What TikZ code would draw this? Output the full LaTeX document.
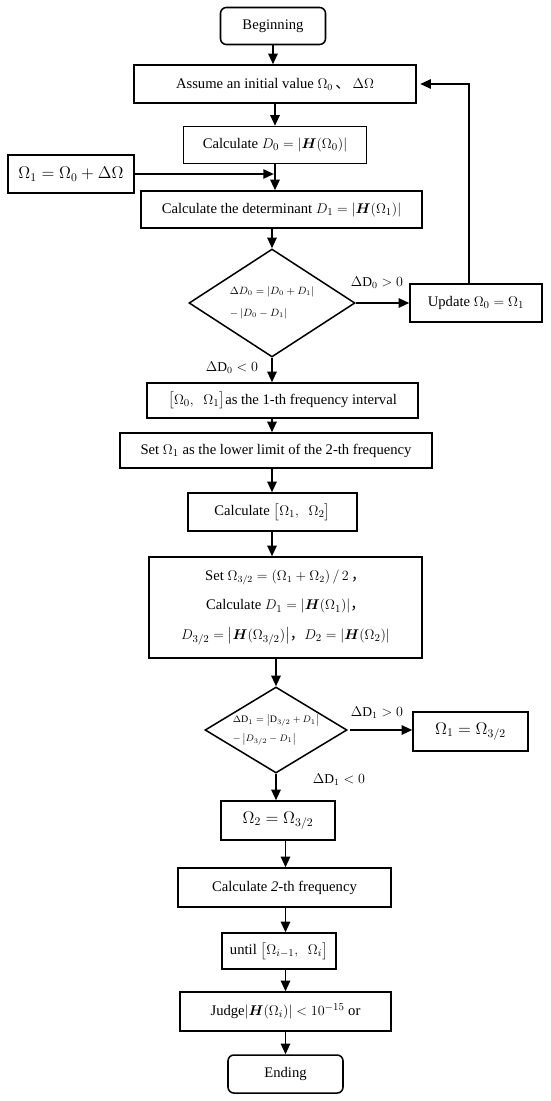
\documentclass[tikz,border=0pt]{standalone}
\usepackage{fontspec}
\usepackage{amsmath,bm}
\setmainfont{Liberation Serif}
\newfontfamily\cjk{Noto Sans CJK SC}
\usetikzlibrary{arrows.meta, shapes.geometric, calc}
\newcommand{\Hv}{\bm{H}}
\newcommand{\zcomma}{{\cjk ，}}

\begin{document}
\begin{tikzpicture}[
    x=0.03cm, y=-0.03cm,
    box/.style={
      draw, line width=1.3pt, rectangle, align=center,
      font=\fontsize{12.5}{15}\selectfont, inner sep=2pt,
    },
    term/.style={box, rounded corners=5pt},
    bigmath/.style={box, font=\fontsize{14.5}{17}\selectfont},
    decide/.style={
      draw, line width=1.3pt, diamond, inner sep=0pt,
      font=\fontsize{9}{19}\selectfont, align=left,
    },
    flow/.style={-{Triangle[length=9pt, width=8pt]}, line width=1.3pt},
    cond/.style={font=\fontsize{11.5}{14}\selectfont, inner sep=1pt},
]
\useasboundingbox (0,0) rectangle (550,1101);

\node[term, minimum width=3.15cm, minimum height=1.11cm] (begin) at (273, 26) {Beginning};
\node[box, minimum width=8.46cm, minimum height=1.14cm] (assume) at (275, 84)
  {Assume an initial value {\large$\Omega_0$}\,{\cjk 、}\,{\large$\Delta\Omega$}};
\node[box, minimum width=5.49cm, minimum height=1.11cm] (calcD0) at (275, 145)
  {Calculate $D_0=\left|\Hv(\Omega_0)\right|$};
\node[bigmath, minimum width=3.78cm, minimum height=1.14cm] (omega1) at (71, 174)
  {$\Omega_1=\Omega_0+\Delta\Omega$};
\node[box, minimum width=8.43cm, minimum height=1.11cm] (calcD1) at (281.5, 209.5)
  {Calculate the determinant $D_1=\left|\Hv(\Omega_1)\right|$};

\node[decide, aspect=1.54, minimum width=4.98cm, minimum height=3.24cm] (test0) at (272, 303)
  {$\Delta D_0=\left|D_0+D_1\right|$\\$-\left|D_0-D_1\right|$};
\node[box, minimum width=3.96cm, minimum height=1.14cm] (update) at (476, 303)
  {Update $\Omega_0=\Omega_1$};
\node[cond] (gt0) at (377, 283) {$\Delta\mathrm{D}_0>0$};
\node[cond] (lt0) at (232, 368) {$\Delta\mathrm{D}_0<0$};

\node[box, minimum width=8.13cm, minimum height=1.05cm] (interval) at (282.5, 400.5)
  {$\bigl[\Omega_0,\ \ \Omega_1\bigr]$as the 1-th frequency interval};
\node[box, minimum width=9.36cm, minimum height=1.05cm] (setlow) at (276, 450.5)
  {Set $\Omega_1$ as the lower limit of the 2-th frequency};
\node[box, minimum width=5.07cm, minimum height=1.14cm] (calcint) at (272.5, 512)
  {Calculate $\bigl[\Omega_1,\ \ \Omega_2\bigr]$};
\node[box, minimum width=8.19cm, minimum height=3.03cm, font=\fontsize{12.5}{25}\selectfont] (mid) at (285.5, 607.5)
  {Set {\large$\Omega_{3/2}=(\Omega_1+\Omega_2)\,/\,2$}\,\zcomma\\
   Calculate $D_1=\left|\Hv(\Omega_1)\right|$\zcomma\\
   $D_{3/2}=\left|\Hv(\Omega_{3/2})\right|$\zcomma$D_2=\left|\Hv(\Omega_2)\right|$};

\node[decide, aspect=1.65, minimum width=4.26cm, minimum height=2.58cm, font=\fontsize{8.5}{16}\selectfont] (test1) at (276, 730)
  {$\Delta\mathrm{D}_1=\left|\mathrm{D}_{3/2}+D_1\right|$\\$-\left|D_{3/2}-D_1\right|$};
\node[bigmath, minimum width=3.45cm, minimum height=1.17cm] (upper) at (470.5, 731.5)
  {$\Omega_1=\Omega_{3/2}$};
\node[cond] (gt1) at (377, 713) {$\Delta\mathrm{D}_1>0$};
\node[cond] (lt1) at (339, 780) {$\Delta\mathrm{D}_1<0$};

\node[bigmath, minimum width=3.42cm, minimum height=1.17cm] (lower) at (278, 820.5)
  {$\Omega_2=\Omega_{3/2}$};
\node[box, minimum width=6.39cm, minimum height=1.17cm] (calc2) at (284.5, 887.5)
  {Calculate \textit{2}-th frequency};
\node[box, minimum width=3.42cm, minimum height=1.08cm] (until) at (279, 951)
  {until $\bigl[\Omega_{i-1},\ \ \Omega_i\bigr]$};
\node[box, minimum width=6.33cm, minimum height=1.17cm] (judge) at (285.5, 1011.5)
  {Judge$\left|\Hv(\Omega_i)\right|<10^{-15}$ or};
\node[term, minimum width=3.45cm, minimum height=1.14cm] (ending) at (285.5, 1074) {Ending};

% main column
\draw[flow] (begin.south) -- (begin.south |- assume.north);
\draw[flow] (assume.south -| calcD0.north) -- (calcD0.north);
\draw[flow] (calcD0.south) -- (calcD0.south |- calcD1.north);
\draw[flow, shorten >=1pt] (omega1.east) -- (omega1.east -| calcD0.south);
\draw[flow] (test0.north |- calcD1.south) -- (test0.north);
\draw[flow] (test0.east) -- (update.west);
\draw[flow] (test0.south) -- (test0.south |- interval.north);
\draw[flow] (test0.south |- interval.south) -- (test0.south |- setlow.north);
\draw[flow] (test0.south |- setlow.south) -- (test0.south |- calcint.north);
\draw[flow] (test0.south |- calcint.south) -- (test0.south |- mid.north);
\draw[flow] (test1.north |- mid.south) -- (test1.north);
\draw[flow, shorten <=2pt] (test1.east) -- (test1.east -| upper.west);
\draw[flow] (test1.south) -- (test1.south |- lower.north);
\draw[flow] (lower.south -| ending.north) -- (ending.north |- calc2.north);
\draw[flow] (calc2.south -| ending.north) -- (ending.north |- until.north);
\draw[flow] (until.south -| ending.north) -- (ending.north |- judge.north);
\draw[flow] (judge.south -| ending.north) -- (ending.north);

% back to the start value
\draw[flow, shorten >=3pt] ([xshift=-0.21cm]update.north) |- (assume.east);

\end{tikzpicture}
\end{document}
